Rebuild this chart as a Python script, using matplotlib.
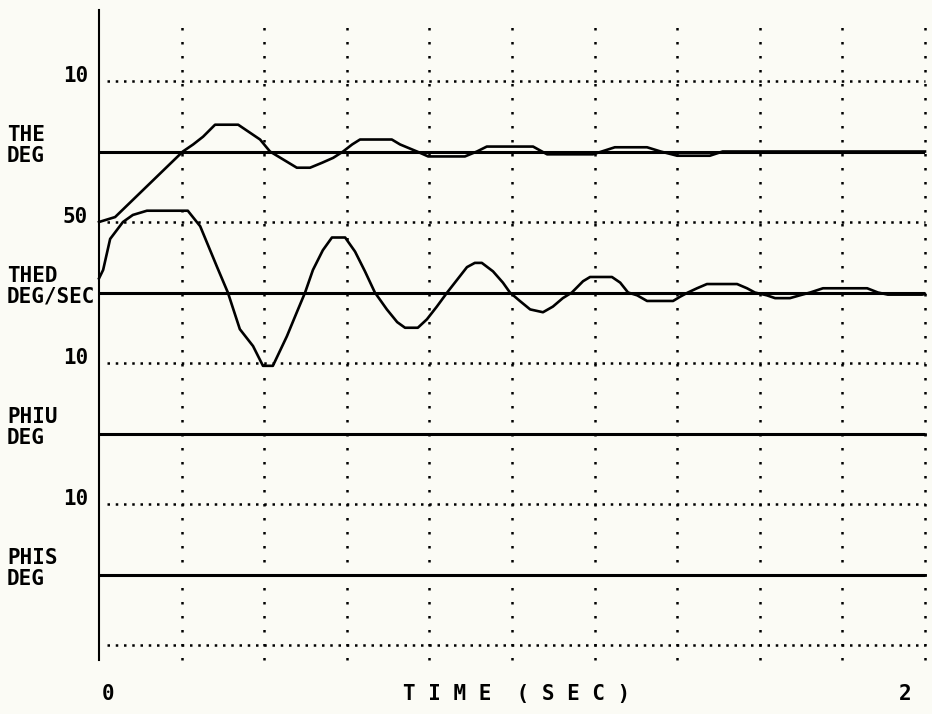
import matplotlib
matplotlib.use("Agg")
import matplotlib.pyplot as plt

# figure size in pixels
W, H = 932, 714

# time grid (dotted verticals)
time_grid = [0.2, 0.4, 0.6, 0.8, 1.0, 1.2, 1.4, 1.6, 1.8, 2.0]

# THE (deg)
the_t = [0, 0.039, 0.203, 0.228, 0.252, 0.281, 0.337, 0.39, 0.414, 0.479, 0.511,
         0.540, 0.567, 0.591, 0.613, 0.632, 0.709, 0.729, 0.770, 0.797, 0.886,
         0.915, 0.939, 1.051, 1.085, 1.196, 1.249, 1.327, 1.36, 1.40, 1.479, 1.51, 2.0]
the_v = [-10, -9.3, 0, 1.0, 2.1, 3.8, 3.8, 1.7, 0, -2.3, -2.3,
         -1.6, -0.9, 0, 1.0, 1.7, 1.7, 1.0, 0, -0.7, -0.7,
         0, 0.7, 0.7, -0.4, -0.4, 0.6, 0.6, 0, -0.6, -0.6, 0, 0]

# THED (deg/sec)
thed_t = [0, 0.010, 0.027, 0.058, 0.082, 0.116, 0.215, 0.245, 0.286, 0.312,
          0.341, 0.373, 0.397, 0.421, 0.455, 0.479, 0.499, 0.518, 0.542, 0.564,
          0.596, 0.620, 0.644, 0.668, 0.697, 0.722, 0.741, 0.772, 0.794, 0.818,
          0.843, 0.867, 0.891, 0.910, 0.927, 0.954, 0.978, 0.995, 1.019, 1.044,
          1.075, 1.099, 1.123, 1.145, 1.172, 1.189, 1.242, 1.262, 1.281, 1.303,
          1.327, 1.390, 1.407, 1.426, 1.448, 1.472, 1.545, 1.569, 1.588, 1.617,
          1.637, 1.673, 1.697, 1.722, 1.753, 1.860, 1.886, 1.910, 1.993, 2.0]
thed_v = [10, 16, 38, 50, 55, 58, 58, 47, 18, 0,
          -26, -38, -52, -52, -31, -14, 0, 16, 30, 39,
          39, 29, 15, 0, -12, -21, -25, -25, -19, -10,
          0, 9, 18, 21, 21, 15, 7, 0, -6, -12,
          -14, -10, -4, 0, 8, 11, 11, 7, 0, -2,
          -6, -6, -3, 0, 3, 6, 6, 3, 0, -2,
          -4, -4, -2, 0, 3, 3, 0, -1.5, -1.5, -1]

# PHIU / PHIS are flat
phiu_t = [0, 2.0]
phiu_v = [0, 0]
phis_t = [0, 2.0]
phis_v = [0, 0]

band_names = ["THE\nDEG", "THED\nDEG/SEC", "PHIU\nDEG", "PHIS\nDEG"]
band_scales = [10, 50, 10, 10]
band_scale_labels = ["10", "50", "10", "10"]
band_series = [(the_t, the_v), (thed_t, thed_v), (phiu_t, phiu_v), (phis_t, phis_v)]

# layout (pixels)
X0, X1 = 99, 925
TOP, BAND = 81, 141


def px_rect(x, y, w, h):
    return [x / W, 1 - (y + h) / H, w / W, h / H]


font = dict(family="DejaVu Sans Mono", fontweight="bold", fontsize=15, color="black")
hdots = (0, (1, 2.3))
vdots = (0, (1, 4.6))

fig = plt.figure(figsize=(W / 100, H / 100), dpi=100, facecolor="#fbfbf5")

# frame: left axis line + dotted time grid
base = fig.add_axes(px_rect(X0, 10, X1 - X0, 650))
base.patch.set_alpha(0)
base.set_xlim(0, 2)
base.set_ylim(0, 1)
for s in ["top", "right", "bottom"]:
    base.spines[s].set_visible(False)
base.spines["left"].set_linewidth(1.5)
base.set_xticks([])
base.set_yticks([])
base.vlines(time_grid, 0, (660 - 24) / 650, colors="black", linestyles=vdots,
            linewidth=1.8, clip_on=False)

for i, ((t, v), s) in enumerate(zip(band_series, band_scales)):
    y_top = TOP + BAND * i
    ax = fig.add_axes(px_rect(X0, y_top, X1 - X0, BAND))
    ax.patch.set_alpha(0)
    ax.set_xlim(0, 2)
    ax.set_ylim(-s, s)
    ax.axis("off")
    # dotted scale line at top of band (and bottom of the last one)
    ax.hlines(s, 0.02, 2.0, colors="black", linestyles=hdots, linewidth=1.8, clip_on=False)
    if i == len(band_scales) - 1:
        ax.hlines(-s, 0.02, 2.0, colors="black", linestyles=hdots, linewidth=1.8, clip_on=False)
    ax.axhline(0, color="black", linewidth=2.2)
    ax.plot(t, v, color="black", linewidth=1.9, clip_on=False)

    zero_y = y_top + BAND / 2
    fig.text(88 / W, 1 - (y_top - 5) / H, band_scale_labels[i], ha="right", va="center", **font)
    fig.text(7 / W, 1 - (zero_y - 6) / H, band_names[i], ha="left", va="center",
             linespacing=1.05, **font)

fig.text(102 / W, 1 - 694 / H, "0", ha="left", va="center", **font)
fig.text(912 / W, 1 - 694 / H, "2", ha="right", va="center", **font)
fig.text(517 / W, 1 - 694 / H, "T I M E  ( S E C )", ha="center", va="center", **font)

fig.savefig("out.png", dpi=100, facecolor=fig.get_facecolor())
